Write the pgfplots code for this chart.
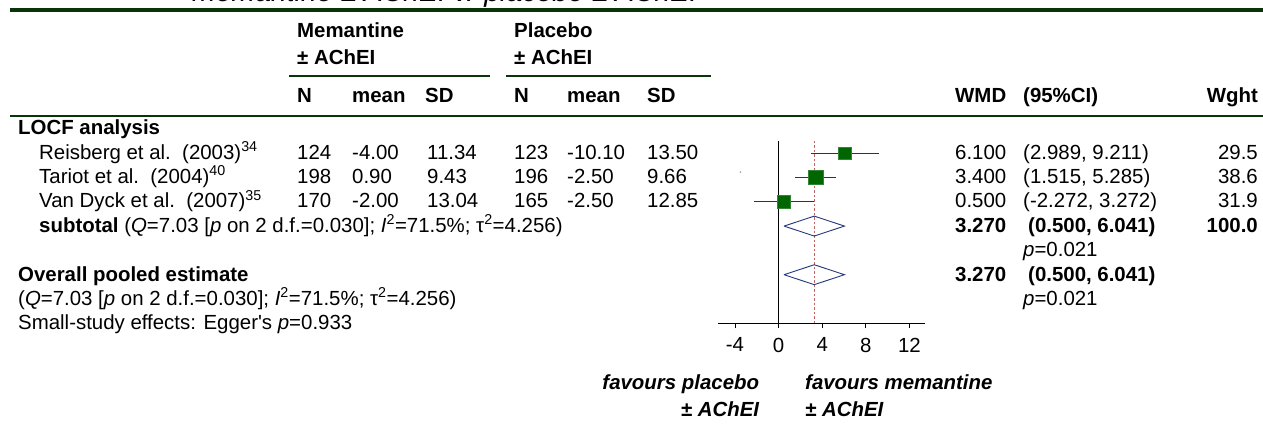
\documentclass[border=0pt]{standalone}
\usepackage{fontspec}
\setmainfont{Liberation Sans}
\usepackage{pgfplots}
\pgfplotsset{compat=1.18}
\definecolor{dgreen}{RGB}{8,52,8}
\definecolor{sqgreen}{RGB}{0,102,0}
\definecolor{navy}{RGB}{35,55,125}
\definecolor{refred}{RGB}{190,100,100}
\newcommand{\fs}{\fontsize{20.5}{24.4}\selectfont}
\begin{document}
\begin{tikzpicture}
\begin{scope}[x=1bp,y=-1bp]
\useasboundingbox (0,0) rectangle (1263,432);
\tikzset{every node/.style={inner sep=0pt, font=\fs}, L/.style={anchor=base west}, R/.style={anchor=base east}}
% title (clipped at top)
\node[L, font=\fontsize{28.5}{30}\selectfont\itshape] at (192,1.5) {memantine ± AChEI v. placebo ± AChEI};
% rules
\draw[dgreen, line width=3.5bp] (10,10) -- (1263,10);
\draw[dgreen, line width=2bp] (289,76) -- (490,76);
\draw[dgreen, line width=2bp] (506,76) -- (711,76);
\draw[dgreen, line width=2.5bp] (10,116) -- (1263,116);
% headers
\node[L, font=\fs\bfseries] at (297,37) {Memantine};
\node[L, font=\fs\bfseries] at (297,64) {± AChEI};
\node[L, font=\fs\bfseries] at (514,37) {Placebo};
\node[L, font=\fs\bfseries] at (514,64) {± AChEI};
\foreach \x/\t in {297/N,352/mean,425/SD,514/N,567/mean,647/SD,955/WMD,1023/(95\%CI)}
  \node[L, font=\fs\bfseries] at (\x,102) {\t};
\node[R, font=\fs\bfseries] at (1258,102) {Wght};
% left column
\node[L, font=\fs\bfseries] at (18,134.6) {LOCF analysis};
\node[L] at (39,159) {Reisberg et al.\ \ (2003)\textsuperscript{34}};
\node[L] at (39,183.4) {Tariot et al.\ \ (2004)\textsuperscript{40}};
\node[L] at (39,207.8) {Van Dyck et al.\ \ (2007)\textsuperscript{35}};
\node[L] at (39,232.2) {\textbf{subtotal} (\textit{Q}=7.03 [\textit{p} on 2 d.f.=0.030]; \textit{I}\textsuperscript{2}=71.5\%; τ\textsuperscript{2}=4.256)};
\node[L, font=\fs\bfseries] at (18,281) {Overall pooled estimate};
\node[L] at (18,305.4) {(\textit{Q}=7.03 [\textit{p} on 2 d.f.=0.030]; \textit{I}\textsuperscript{2}=71.5\%; τ\textsuperscript{2}=4.256)};
\node[L] at (18,329.8) {Small-study effects: Egger\textquotesingle s \textit{p}=0.933};
% study columns
\foreach \y/\a/\b/\c/\d/\e/\f in {159/124/-4.00/11.34/123/-10.10/13.50, 183.4/198/0.90/9.43/196/-2.50/9.66, 207.8/170/-2.00/13.04/165/-2.50/12.85}{
  \node[L] at (297,\y) {\a};
  \node[L] at (352,\y) {\b};
  \node[L] at (427,\y) {\c};
  \node[L] at (514,\y) {\d};
  \node[L] at (567,\y) {\e};
  \node[L] at (647,\y) {\f};
}
% right columns
\foreach \y/\a/\b/\c in {159/6.100/{(2.989, 9.211)}/29.5, 183.4/3.400/{(1.515, 5.285)}/38.6, 207.8/0.500/{(-2.272, 3.272)}/31.9}{
  \node[L] at (955,\y) {\a};
  \node[L] at (1023,\y) {\b};
  \node[R] at (1258,\y) {\c};
}
\node[L, font=\fs\bfseries] at (955,232.2) {3.270};
\node[L, font=\fs\bfseries] at (1028,232.2) {(0.500, 6.041)};
\node[R, font=\fs\bfseries] at (1258,232.2) {100.0};
\node[L] at (1023,256.6) {\textit{p}=0.021};
\node[L, font=\fs\bfseries] at (955,281) {3.270};
\node[L, font=\fs\bfseries] at (1028,281) {(0.500, 6.041)};
\node[L] at (1023,305.4) {\textit{p}=0.021};
% favours labels
\node[R, font=\fs\bfseries\itshape] at (759.3,389.5) {favours placebo};
\node[R, font=\fs\bfseries\itshape] at (759.3,416) {± AChEI};
\node[L, font=\fs\bfseries\itshape] at (805,389.5) {favours memantine};
\node[L, font=\fs\bfseries\itshape] at (805,416) {± AChEI};
\end{scope}
\begin{axis}[
  at={(718.3bp,-323.3bp)}, anchor=south west,
  scale only axis, width=206.7bp, height=182.3bp,
  xmin=-5.53, xmax=13.43, ymin=0, ymax=7.5,
  axis x line*=bottom, axis y line=none,
  xtick={-4,0,4,8,12}, ytick=\empty,
  tick align=outside, major tick length=5bp,
  tick style={black, line width=0.8bp},
  axis line style={black, line width=1bp},
  x tick label style={font=\fs, yshift=-6bp},
  /pgf/number format/assume math mode=true,
  clip=false,
]
\addplot[black, line width=1bp] coordinates {(0,0) (0,7.5)};
\addplot[refred, line width=0.9bp, dash pattern=on 2.5bp off 2bp] coordinates {(3.27,0) (3.27,7.5)};
% study squares (size ~ weight)
\addplot[only marks, mark=square*, mark size=6.35bp, mark options={fill=sqgreen, draw=sqgreen!80!white, line width=0.6bp}] coordinates {(6.100,7)};
\addplot[only marks, mark=square*, mark size=7.25bp, mark options={fill=sqgreen, draw=sqgreen!80!white, line width=0.6bp}] coordinates {(3.400,6)};
\addplot[only marks, mark=square*, mark size=6.6bp, mark options={fill=sqgreen, draw=sqgreen!80!white, line width=0.6bp}] coordinates {(0.500,5)};
% confidence intervals
\addplot[black!80, line width=0.9bp] coordinates {(2.989,7) (9.211,7)};
\addplot[black!80, line width=0.9bp] coordinates {(1.515,6) (5.285,6)};
\addplot[black!80, line width=0.9bp] coordinates {(-2.272,5) (3.272,5)};
% pooled diamonds
\addplot[navy, line width=0.9bp] coordinates {(0.500,4) (3.270,4.41) (6.041,4) (3.270,3.59) (0.500,4)};
\addplot[navy, line width=0.9bp] coordinates {(0.500,2) (3.270,2.41) (6.041,2) (3.270,1.59) (0.500,2)};
% faint speck seen left of the plot
\addplot[only marks, mark=*, mark size=0.6bp, gray!70] coordinates {(-3.5,6.22)};
\end{axis}
\end{tikzpicture}
\end{document}
